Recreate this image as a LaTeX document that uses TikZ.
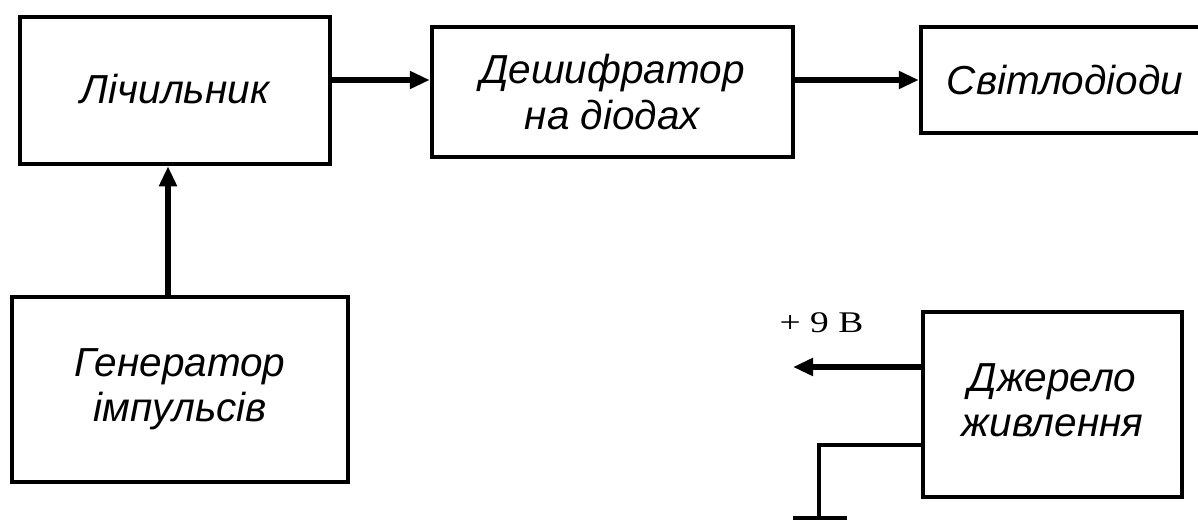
\documentclass[tikz,border=0pt]{standalone}
\usepackage{fontspec}
\setmainfont{Liberation Sans}
\newfontfamily\serifcyr{Liberation Serif}
\usetikzlibrary{arrows.meta}
\tikzset{
  blk/.style={draw=black, line width=4.5pt, fill=white, inner sep=0pt,
    font=\fontsize{40.5}{46}\selectfont\itshape, align=center},
  arr/.style={line width=6pt, -{Triangle[length=20pt,width=17pt]}},
  wire/.style={line width=4.5pt}
}
\begin{document}
\begin{tikzpicture}[x=1pt,y=-1pt]
\useasboundingbox (0,0) rectangle (1198,519);
\node[blk, minimum width=310pt, minimum height=147pt] (lich) at (175,90.5) {\raisebox{3pt}{Лічильник}};
\node[blk, minimum width=361pt, minimum height=130pt] (desh) at (612.5,92) {Дешифратор\\на діодах};
\node[blk, minimum width=300pt, minimum height=106pt, text width=300pt] (svit) at (1071,80) {\hspace*{-12pt}Світлодіоди};
\node[blk, minimum width=336pt, minimum height=185pt] (gen) at (180,389.5) {\raisebox{3pt}{\begin{tabular}{@{}c@{}}Генератор\\[-1pt]імпульсів\end{tabular}}};
\node[blk, minimum width=259pt, minimum height=185pt] (djer) at (1052.5,404.5) {\raisebox{3pt}{\begin{tabular}{@{}c@{}}Джерело\\[-1pt]живлення\end{tabular}}};
\draw[arr] (lich.east |- 0,80) -- (desh.west |- 0,80);
\draw[arr] (desh.east |- 0,80) -- (svit.west |- 0,80);
\draw[arr] (gen.north -| 168,0) -- (lich.south -| 168,0);
\coordinate (plus) at (793,367);
\draw[arr] (djer.west |- 0,367) -- (plus);
\node[inner sep=0pt, anchor=base, font=\fontsize{30}{34}\selectfont\serifcyr] (lbl) at (821.5,332) {\scalebox{1.25}[1]{+ 9 В}};
\coordinate (gc) at (819,445);
\coordinate (gb) at (819,519);
\draw[wire, line join=miter] (djer.west |- gc) -- (gc) -- (gb);
\coordinate (gl) at (793,518);
\coordinate (gr) at (847,518);
\draw[wire] (gl) -- (gr);
\end{tikzpicture}
\end{document}
